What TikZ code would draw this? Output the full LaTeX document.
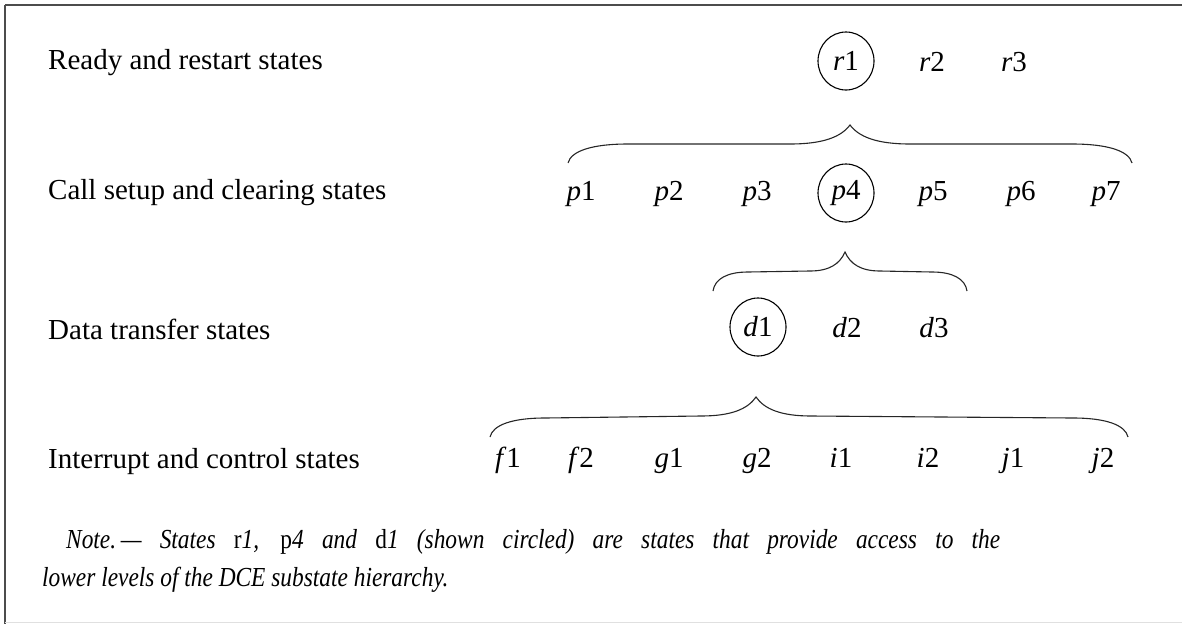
\documentclass[tikz,border=0pt]{standalone}
\usepackage{fontspec}
\setmainfont{Liberation Serif}
\usetikzlibrary{positioning, shapes.geometric, calc}

\tikzset{
  lvl/.style={anchor=west, inner sep=0pt, font=\fontsize{29}{34}\selectfont},
  st/.style={inner sep=0pt, anchor=base, font=\fontsize{29}{34}\selectfont},
  circled/.style={inner sep=0pt, font=\fontsize{29}{34}\selectfont, draw, ellipse,
    minimum width=56pt, minimum height=58pt, line width=1.1pt},
  hbrace/.style={line width=1.1pt, black!85},
  note/.style={anchor=north west, inner sep=0pt, text width=958pt, align=justify,
    font=\fontsize{27.5}{38}\selectfont\itshape\addfontfeature{FakeStretch=0.85}},
}

% brace from left end #1 up to tip #2 and down to right end #3, curl length #4
\newcommand{\statebrace}[4]{%
  \draw[hbrace] (#1)
    .. controls ($(#1)+(0.05*#4,-12)$) and ($(#1)+(0.4*#4,-19)$) .. ($(#1)+(#4,-19)$)
    -- ($(#2)+(-#4,19)$)
    .. controls ($(#2)+(-0.45*#4,19)$) and ($(#2)+(-0.15*#4,12)$) .. (#2)
    .. controls ($(#2)+(0.15*#4,12)$) and ($(#2)+(0.45*#4,19)$) .. ($(#2)+(#4,19)$)
    -- ($(#3)+(-#4,-19)$)
    .. controls ($(#3)+(-0.4*#4,-19)$) and ($(#3)+(-0.05*#4,-12)$) .. (#3);}

\begin{document}
\begin{tikzpicture}[x=1pt, y=-1pt]
  \useasboundingbox (0,0) rectangle (1182,624);

  % frame
  \draw[line width=2.5pt, black!70] (5,5) -- (1182,5);
  \draw[line width=2pt, black!70] (5,5) -- (5,624);
  \draw[line width=1pt, black!12] (5,622) -- (1182,622);

  % level names
  \node[lvl] (lready) at (48,63) {Ready and restart states};
  \node[lvl] (lcall) at (48,193) {Call setup and clearing states};
  \node[lvl] (ldata) at (48,329) {Data transfer states};
  \node[lvl] (lintr) at (48,462) {Interrupt and control states};

  % ready and restart
  \node[circled] (r1) at (846,61) {\textit{r}1}; % access state
  \node[st] (r2) at (932,71) {\textit{r}2};
  \node[st] (r3) at (1014,71) {\textit{r}3};

  % call setup and clearing
  \node[st] (p1) at (581,200) {\textit{p}1};
  \node[st] (p2) at (669,200) {\textit{p}2};
  \node[st] (p3) at (757,200) {\textit{p}3};
  \node[circled] (p4) at (846,193) {\textit{p}4}; % access state
  \node[st] (p5) at (933,200) {\textit{p}5};
  \node[st] (p6) at (1021,200) {\textit{p}6};
  \node[st] (p7) at (1106,200) {\textit{p}7};

  % data transfer
  \node[circled] (d1) at (758,327) {\textit{d}1}; % access state
  \node[st] (d2) at (847,337) {\textit{d}2};
  \node[st] (d3) at (934,337) {\textit{d}3};

  % interrupt and control
  \node[st] (f1) at (508,467) {\textit{f}1};
  \node[st] (f2) at (581,467) {\textit{f}2};
  \node[st] (g1) at (669,467) {\textit{g}1};
  \node[st] (g2) at (757,467) {\textit{g}2};
  \node[st] (i1) at (841,467) {\textit{i}1};
  \node[st] (i2) at (928,467) {\textit{i}2};
  \node[st] (j1) at (1013,467) {\textit{j}1};
  \node[st] (j2) at (1103,467) {\textit{j}2};

  % braces
  \coordinate (b1l) at (568,163);
  \coordinate (b1t) at (850,125);
  \coordinate (b1r) at (1132,163);
  \coordinate (b2l) at (713,291);
  \coordinate (b2t) at (845,252);
  \coordinate (b2r) at (967,291);
  \coordinate (b3l) at (490,437);
  \coordinate (b3t) at (756,397);
  \coordinate (b3r) at (1128,437);
  \statebrace{b1l}{b1t}{b1r}{60}
  \statebrace{b2l}{b2t}{b2r}{35}
  \statebrace{b3l}{b3t}{b3r}{55}

  % note
  \node[note] (nt) at (42,529) {\hspace*{24pt}Note.\,--- States {\upshape r}1, {\upshape p}4 and {\upshape d}1 (shown circled) are states that provide access to the\linebreak lower levels of the DCE substate hierarchy.};
\end{tikzpicture}
\end{document}
